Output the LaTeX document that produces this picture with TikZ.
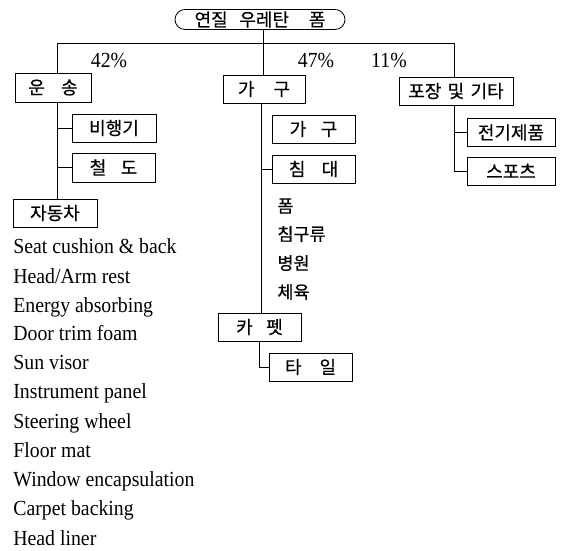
\documentclass[tikz,border=0pt]{standalone}
\usepackage{fontspec}
\setmainfont{Liberation Serif}
\newfontfamily\kr[FakeBold=0.5]{Noto Sans CJK KR}
\newfontfamily\lat[FakeStretch=0.92]{Liberation Serif}
\begin{document}
\begin{tikzpicture}[x=1pt,y=-1pt,
  line width=0.8pt,
  kbox/.style={draw, line width=0.8pt, minimum height=28pt, inner sep=0pt, font=\kr\fontsize{18}{18}\selectfont},
  ktext/.style={anchor=west, inner sep=0pt, font=\kr\fontsize{17.5}{17.5}\selectfont},
  etext/.style={anchor=base west, inner sep=0pt, font=\lat\fontsize{21.5}{21.5}\selectfont},
  pct/.style={anchor=base, inner sep=0pt, font=\lat\fontsize{21.5}{21.5}\selectfont},
  wire/.style={draw, line width=0.8pt}]
\useasboundingbox (0,0) rectangle (562,550);

% root
\node[draw, rounded corners=10pt, minimum width=170pt, minimum height=20pt, inner sep=0pt,
      font=\kr\fontsize{18}{18}\selectfont] (root) at (260,19.5) {연질\hspace{0.65em}우레탄\hspace{1.1em}폼};

% top-level boxes
\node[kbox, minimum width=76pt, minimum height=29pt] (unsong) at (53,87.5) {운\hspace{0.9em}송};
\node[kbox, minimum width=82pt] (gagu) at (264,89) {가\hspace{1.05em}구};
\node[kbox, minimum width=114pt] (pojang) at (456,91) {포장\hspace{0.35em}및\hspace{0.35em}기타};

% percentages
\node[pct] (p42) at (109,67) {42\%};
\node[pct] (p47) at (316,67) {47\%};
\node[pct] (p11) at (389,67) {11\%};

% bus
\coordinate (busL) at (57,43);
\coordinate (busR) at (454,43);
\coordinate (busC) at (263,43);
\draw[wire] (busL |- unsong.north) -- (busL) -- (busR) -- (busR |- pojang.north);
\draw[wire] (root.south -| busC) -- (busC |- gagu.north);

% transport column
\node[kbox, minimum width=84pt] (bihaeng) at (114,128) {비행기};
\node[kbox, minimum width=83pt, minimum height=29pt] (cheoldo) at (113.5,167.5) {철\hspace{0.8em}도};
\node[kbox, minimum width=84pt] (jadong) at (55,213) {자동차};
\coordinate (tL) at (57,0);
\draw[wire] (tL |- unsong.south) -- (tL |- jadong.north);
\draw[wire] (tL |- bihaeng.west) -- (bihaeng.west);
\draw[wire] (tL |- cheoldo.west) -- (cheoldo.west);

% car list
\node[etext] (e1) at (13,253) {Seat cushion \& back};
\node[etext] (e2) at (13,283) {Head/Arm rest};
\node[etext] (e3) at (13,312) {Energy absorbing};
\node[etext] (e4) at (13,340) {Door trim foam};
\node[etext] (e5) at (13,369) {Sun visor};
\node[etext] (e6) at (13,398) {Instrument panel};
\node[etext] (e7) at (13,428) {Steering wheel};
\node[etext] (e8) at (13,457) {Floor mat};
\node[etext] (e9) at (13,486) {Window encapsulation};
\node[etext] (e10) at (13,515) {Carpet backing};
\node[etext] (e11) at (13,545) {Head liner};

% furniture column
\node[kbox, minimum width=83pt] (gagu2) at (313.5,129) {가\hspace{0.8em}구};
\node[kbox, minimum width=83pt] (chimdae) at (313.5,169) {침\hspace{0.9em}대};
\node[ktext] (f1) at (277,206) {폼};
\node[ktext] (f2) at (277,234) {침구류};
\node[ktext] (f3) at (277,263) {병원};
\node[ktext] (f4) at (277,292) {체육};
\node[kbox, minimum width=83pt] (carpet) at (259.5,327) {카\hspace{0.75em}펫};
\node[kbox, minimum width=83pt] (tile) at (310.5,367) {타\hspace{1em}일};
\coordinate (tM) at (261,0);
\draw[wire] (tM |- gagu.south) -- (tM |- carpet.north);
\draw[wire] (tM |- chimdae.west) -- (chimdae.west);
\coordinate (tC) at (259,0);
\draw[wire] (tC |- carpet.south) |- (tile.west);

% packaging column
\node[kbox, minimum width=88pt] (elec) at (511,132.5) {전기제품};
\node[kbox, minimum width=88pt] (sports) at (511,171) {스포츠};
\coordinate (tR) at (454,0);
\draw[wire] (tR |- pojang.south) |- (sports.west);
\draw[wire] (tR |- elec.west) -- (elec.west);
\end{tikzpicture}
\end{document}
